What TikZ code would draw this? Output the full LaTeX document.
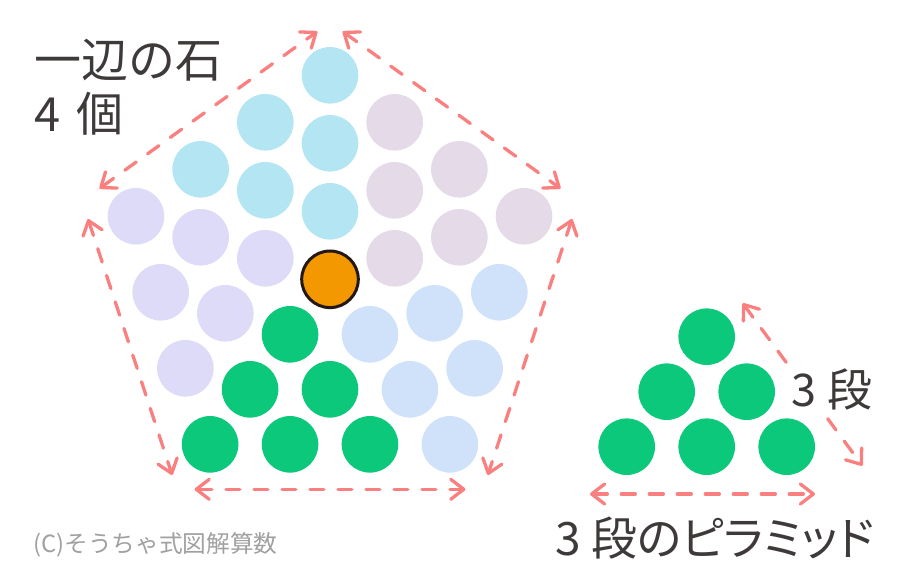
\documentclass[tikz,border=0pt]{standalone}
\usepackage{fontspec}
\newfontfamily\jp{Noto Sans CJK JP}
\newfontfamily\jpp{Noto Sans CJK JP}[RawFeature=+palt]
\usetikzlibrary{arrows.meta}
\definecolor{stcyan}{RGB}{179,230,242}
\definecolor{stlav}{RGB}{222,219,249}
\definecolor{stgreen}{RGB}{12,200,122}
\definecolor{stblue}{RGB}{207,226,250}
\definecolor{stmauve}{RGB}{229,218,232}
\definecolor{storange}{RGB}{243,152,0}
\definecolor{stedge}{RGB}{35,24,21}
\definecolor{arrowc}{RGB}{250,128,128}
\definecolor{textc}{RGB}{62,58,57}
\definecolor{copyc}{RGB}{160,160,160}
\tikzset{
  stone/.style={circle, minimum size=56.6pt, inner sep=0pt, outer sep=0pt},
  dimarrow/.style={draw=arrowc, line width=3.3pt, line cap=round, dash pattern=on 14pt off 14pt,
    {Straight Barb[length=13pt,width=20pt,round]}-{Straight Barb[length=13pt,width=20pt,round]}},
  lbl/.style={text=textc, inner sep=0pt, font=\jp\fontsize{45}{54}\selectfont},
  copytext/.style={text=copyc, inner sep=0pt, font=\jp\fontsize{23.7}{28}\selectfont}
}
\begin{document}
\begin{tikzpicture}[x=1pt,y=-1pt]
\useasboundingbox (0,0) rectangle (899,575);
% pentagonal arrangement
\foreach \k/\col in {0/stcyan,1/stlav,2/stgreen,3/stblue,4/stmauve}{
  \foreach \a/\b in {1/0,2/0,3/0,1/1,2/1,1/2}{
    \pgfmathsetmacro\t{90+72*\k}
    \node[stone, fill=\col] (s\k-\a-\b) at ({330+68*(\a*cos(\t)+\b*cos(\t+72))},{279.3-68*(\a*sin(\t)+\b*sin(\t+72))}) {};
  }
}
\node[stone, fill=storange, draw=stedge, line width=3pt] (center) at (330,279.3) {};
% pyramid
\node[stone, fill=stgreen] (p1) at (706.7,336.7) {};
\node[stone, fill=stgreen] (p2) at (666.7,391.7) {};
\node[stone, fill=stgreen] (p3) at (746.7,391.7) {};
\node[stone, fill=stgreen] (p4) at (626.7,446.7) {};
\node[stone, fill=stgreen] (p5) at (706.7,446.7) {};
\node[stone, fill=stgreen] (p6) at (786.7,446.7) {};
% arrow ends
\coordinate (a1s) at (99.5,188.5);  \coordinate (a1e) at (317.3,31.5);
\coordinate (a2s) at (342.7,31.5);  \coordinate (a2e) at (560.5,188.5);
\coordinate (a3s) at (88,219);      \coordinate (a3e) at (172.2,475);
\coordinate (a4s) at (572,219);     \coordinate (a4e) at (487.8,475);
\coordinate (a5s) at (194.6,489.3); \coordinate (a5e) at (465.4,489.3);
\coordinate (b1s) at (590,494);     \coordinate (b1e) at (815,494);
\coordinate (b2s) at (742.7,303.3); \coordinate (b2e) at (862.3,465.7);
\draw[dimarrow] (a1s) -- (a1e);
\draw[dimarrow] (a2s) -- (a2e);
\draw[dimarrow] (a3s) -- (a3e);
\draw[dimarrow] (a4s) -- (a4e);
\draw[dimarrow] (a5s) -- (a5e);
\draw[dimarrow] (b1s) -- (b1e);
\draw[dimarrow] (b2s) -- (b2e);
% labels
\node[lbl, anchor=west, align=left, font=\jp\fontsize{47}{54}\selectfont] (side) at (34,87) {一辺の石\\4\hspace{0.35em}個};
\node[lbl, fill=white, inner sep=1pt] (steps) at (832,389) {3 段};
\node[lbl, anchor=west, font=\jpp\fontsize{46}{54}\selectfont] (pyr) at (555,538) {3 段のピラミッド};
\node[copytext, anchor=west] (copy) at (33,545) {(C)そうちゃ式図解算数};
\end{tikzpicture}
\end{document}
